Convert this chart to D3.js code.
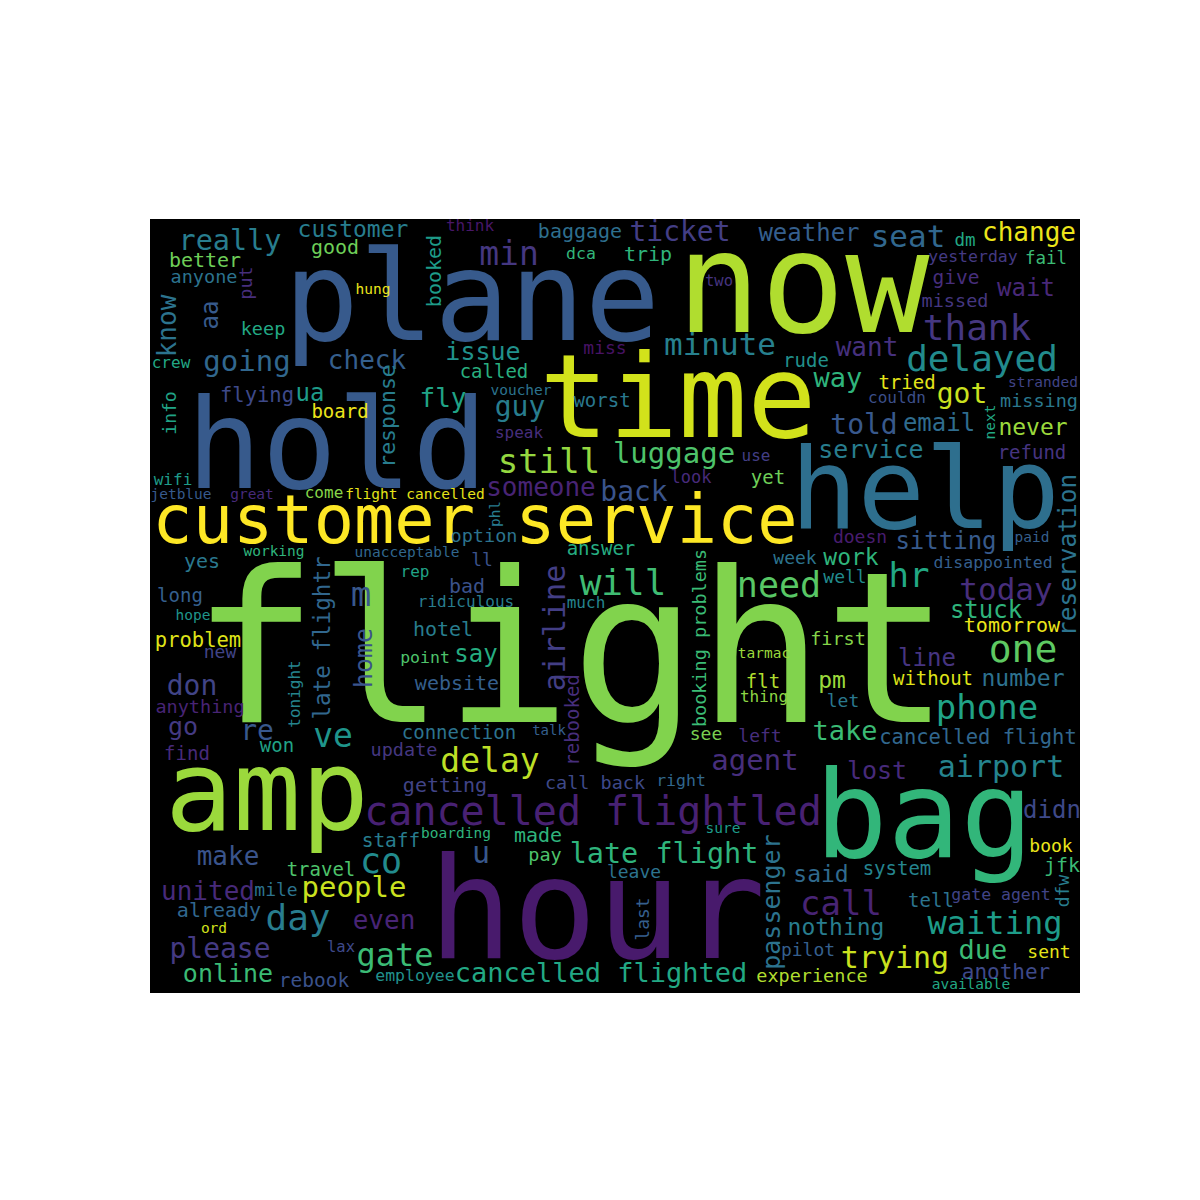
<!DOCTYPE html>
<html>
<head>
<meta charset="utf-8">
<script src="https://cdn.jsdelivr.net/npm/d3@7"></script>
<style>
  html, body { margin: 0; padding: 0; background: #fff; }
  text { font-family: "DejaVu Sans Mono", monospace; }
</style>
</head>
<body>
<div id="cloud"></div>
<script>
// words, in rows of ten
var words = [
  "flight","hour","plane","hold","now","time","help","customer service","amp","bag",
  "cancelled flightled","cancelled flighted","late flight","delay","still","luggage","someone","back","will","need",
  "hr","today","stuck","tomorrow","one","line","number","without","phone","pm",
  "first","let","take","cancelled flight","airport","lost","didn","book","jfk","said",
  "system","gate agent","tell","call","waiting","nothing","due","trying","pilot","sent",
  "another","experience","available","really","customer","good","better","anyone","hung","keep",
  "going","check","crew","flying","ua","board","fly","issue","called","voucher",
  "worst","guy","speak","minute","miss","two","min","dca","trip","baggage",
  "ticket","think","weather","seat","dm","change","yesterday","fail","give","wait",
  "missed","thank","want","delayed","rude","way","tried","got","couldn","stranded",
  "missing","told","email","never","service","refund","use","look","yet","wifi",
  "jetblue","great","come","flight cancelled","option","answer","unacceptable","working","yes","ll",
  "rep","long","bad","ridiculous","hope","much","m","hotel","problem","new",
  "say","point","website","don","anything","go","re","ve","won","find",
  "update","connection","talk","getting","call back","right","see","left","agent","made",
  "pay","sure","boarding","u","leave","staff","make","co","travel","people",
  "united","mile","already","day","even","ord","please","lax","gate","online",
  "rebook","employee","paid","sitting","doesn","disappointed","week","work","well","tarmac",
  "flt","thing"
];
var wordX = [
  571,597,472,337,803,678,925,475,267,924,
  593,601,664,490,549,674,541,634,623,779,
  909,1006,986,1012,1023,927,1023,933,987,832,
  838,843,845,978,1001,877,1052,1051,1062,821,
  897,1001,931,841,995,836,983,895,808,1049,
  1006,812,971,230,353,335,205,204,373,263,
  247,367,171,257,310,340,443,483,494,521,
  602,520,519,720,605,719,509,581,648,580,
  680,470,809,908,965,1029,973,1046,956,1026,
  955,977,867,982,806,838,907,962,897,1043,
  1039,864,939,1033,871,1032,756,691,768,173,
  181,252,324,415,484,601,407,274,202,482,
  415,180,467,466,193,586,361,443,198,220,
  476,425,457,192,200,183,257,333,277,187,
  404,459,549,445,595,681,706,760,755,538,
  545,723,456,481,634,391,228,381,321,354,
  208,276,219,298,384,214,220,341,395,228,
  314,415,1032,946,860,993,795,851,845,764,
  763,764
];
var wordY = [
  722,958,340,488,332,437,528,543,830,857,
  825,982,863,772,473,463,496,501,595,597,
  587,600,618,632,662,666,686,685,719,688,
  645,707,740,744,777,779,818,852,872,882,
  875,900,907,915,934,935,959,968,956,958,
  979,982,989,250,237,254,267,283,294,335,
  371,369,368,402,401,418,407,360,378,395,
  407,416,438,355,354,286,265,259,261,238,
  241,231,241,247,246,241,262,264,284,296,
  307,340,356,371,367,387,389,403,403,387,
  407,434,431,435,458,459,461,483,484,485,
  499,499,498,499,542,555,557,556,568,566,
  577,602,593,607,620,608,606,636,647,658,
  662,663,690,695,713,735,740,747,752,760,
  756,739,735,792,789,786,740,742,770,842,
  861,833,838,863,878,847,865,873,876,897,
  900,896,917,930,929,933,958,952,966,982,
  987,981,542,549,543,568,564,565,583,658,
  688,702
];
var wordSize = [
  210,140,125,125,140,115,112,67,113,121,
  40,27,28.5,33,34,29,26,28,36,35,
  34,31,24,20,38,24,23,19,34,23,
  18.5,18,27,20.5,30,25,24,18,20,23,
  19,16.5,19,34,32,23,27,30,18,18,
  21,18.5,14.5,28.5,23,20,20,18.5,14.5,18.5,
  29,26,16,20.5,24,19,26,25,19,14.5,
  19,28,16,31,18,15.5,33,16.5,20,20,
  28,16,24,31,17.5,26,16.5,17.5,19.5,24,
  18.5,36,26,36,19,27,19,28,16,14.5,
  18.5,28,24,23,25,19,16,17,19,16,
  14.5,14.5,16,14.5,18.5,19,14.5,14.5,20,18,
  16,19,20,16,14.5,16,34,20,20.5,18,
  24,16.5,20,28,18.5,25,28,33,19,19,
  18.5,19,14,20,18.5,16.5,18,18,29,20,
  18.5,14.5,14.5,30,18,19.5,26,35,19,29,
  26,18,20,36,26,14.5,28,15.5,32,25,
  19.5,16.5,14.5,24,18,16.5,18,23,18,14.5,
  19,16
];
var wordTone = [
  .81,.07,.28,.28,.88,.93,.36,1,.85,.66,
  .09,.6,.65,.9,.84,.72,.1,.26,.69,.74,
  .6,.13,.65,.97,.75,.15,.37,.95,.58,.85,
  .82,.4,.68,.33,.45,.12,.22,.97,.68,.34,
  .45,.2,.38,.1,.55,.42,.68,.92,.3,.96,
  .22,.88,.6,.42,.42,.78,.78,.38,.97,.6,
  .33,.3,.6,.22,.55,.97,.58,.5,.63,.38,
  .4,.42,.13,.43,.05,.15,.16,.66,.65,.36,
  .18,.06,.3,.33,.6,.97,.17,.68,.13,.11,
  .16,.16,.14,.48,.5,.65,.96,.92,.24,.2,
  .4,.27,.35,.85,.42,.15,.18,.12,.78,.55,
  .28,.12,.82,.96,.38,.62,.33,.65,.4,.25,
  .58,.3,.25,.42,.52,.45,.27,.42,.95,.2,
  .62,.72,.3,.2,.1,.17,.27,.52,.58,.12,
  .16,.38,.3,.2,.22,.33,.8,.13,.13,.65,
  .72,.55,.65,.27,.38,.42,.26,.48,.72,.92,
  .12,.38,.33,.42,.1,.93,.17,.22,.68,.68,
  .25,.5,.3,.28,.08,.3,.38,.65,.48,.85,
  .88,.83
];

// the words set sideways, reading bottom to top
var upWords = ["know","aa","put","booked","response","info","late flightr","home","tonight","airline",
  "booking problems","rebooked","phl","reservation","next","passenger","last","dfw"];
var upX = [176,218,252,441,395,176,330,372,300,565,706,579,500,1076,995,780,649,1069];
var upY = [326,315,283,271,416,413,638,658,694,628,638,720,514,555,422,902,919,891];
var upSize = [26,24,18.5,20,21.5,18,22.6,25,16,30,18.5,19,14.5,24.5,14.5,25,18,18];
var upTone = [.38,.28,.13,.55,.42,.58,.33,.26,.45,.18,.68,.13,.42,.38,.6,.38,.3,.42];

var canvasLeft = 150, canvasTop = 219, canvasWidth = 930, canvasHeight = 774;

// append the svg object to the body of the page
var svg = d3.select("#cloud")
  .append("svg")
    .attr("width", 1200)
    .attr("height", 1200)
    .style("display", "block");

svg.append("clipPath")
    .attr("id", "canvasClip")
  .append("rect")
    .attr("x", canvasLeft)
    .attr("y", canvasTop)
    .attr("width", canvasWidth)
    .attr("height", canvasHeight);

svg.append("rect")
  .attr("x", canvasLeft)
  .attr("y", canvasTop)
  .attr("width", canvasWidth)
  .attr("height", canvasHeight)
  .attr("fill", "#000");

// word positions were read in picture pixels
var x = d3.scaleLinear().domain([150, 1080]).range([canvasLeft, canvasLeft + canvasWidth]);
var y = d3.scaleLinear().domain([219, 993]).range([canvasTop, canvasTop + canvasHeight]);
var size = d3.scaleLinear().domain([0, 210]).range([0, 210]);
var colour = d3.scaleSequential(d3.interpolateViridis).domain([0, 1]);

var cloud = svg.append("g").attr("clip-path", "url(#canvasClip)");

var flat = words.map(function(w, i) {
  return {text: w, x: wordX[i], y: wordY[i], size: wordSize[i], tone: wordTone[i]};
});
var sideways = upWords.map(function(w, i) {
  return {text: w, x: upX[i], y: upY[i], size: upSize[i], tone: upTone[i]};
});

cloud.selectAll("text.flat")
  .data(flat)
  .enter()
  .append("text")
    .attr("class", "flat")
    .attr("x", function(d) { return x(d.x); })
    .attr("y", function(d) { return y(d.y); })
    .attr("text-anchor", "middle")
    .attr("font-size", function(d) { return size(d.size); })
    .attr("fill", function(d) { return colour(d.tone); })
    .text(function(d) { return d.text; });

cloud.selectAll("text.up")
  .data(sideways)
  .enter()
  .append("text")
    .attr("class", "up")
    .attr("transform", function(d) {
      return "translate(" + x(d.x) + "," + y(d.y) + ")rotate(-90)";
    })
    .attr("text-anchor", "middle")
    .attr("font-size", function(d) { return size(d.size); })
    .attr("fill", function(d) { return colour(d.tone); })
    .text(function(d) { return d.text; });
</script>
</body>
</html>
